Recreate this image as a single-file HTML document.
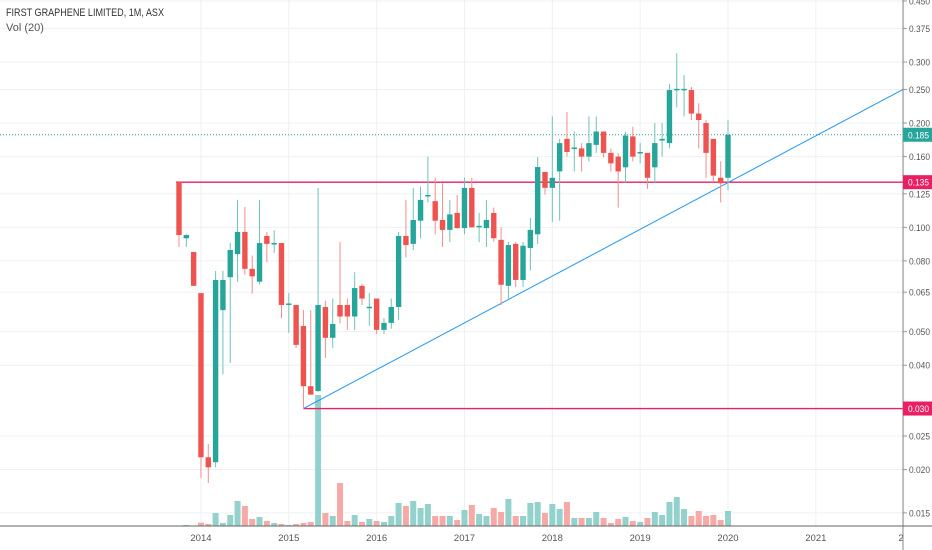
<!DOCTYPE html>
<html><head><meta charset="utf-8"><style>
html,body{margin:0;padding:0;background:#fff;}
svg{display:block;font-family:"Liberation Sans",sans-serif;}
</style></head><body>
<svg id="chart" width="932" height="550" viewBox="0 0 932 550" xmlns="http://www.w3.org/2000/svg">
<rect x="0" y="0" width="932" height="550" fill="#ffffff"/>
<g id="grid"></g>
<g id="vol"></g>
<g id="lines"></g>
<g id="candles"></g>
<g id="axes"></g>
<text x="6" y="16" font-size="11" fill="#333" textLength="158" lengthAdjust="spacingAndGlyphs">FIRST GRAPHENE LIMITED, 1M, ASX</text>
<text x="6" y="31" font-size="11" fill="#555">Vol (20)</text>
</svg>
<script>
const opens=[0.135,0.093,0.0849,0.0646,0.0217,0.021,0.0577,0.0718,0.0837,0.097,0.0759,0.0697,0.0944,0.0898,0.0901,0.0597,0.0597,0.0519,0.0348,0.0337,0.0589,0.048,0.0597,0.0597,0.0553,0.0678,0.0589,0.0623,0.0506,0.053,0.0589,0.0944,0.0896,0.1045,0.123,0.119,0.105,0.0983,0.11,0.0995,0.13,0.1,0.0995,0.11,0.092,0.0678,0.0896,0.0705,0.0872,0.0955,0.1445,0.13,0.145,0.18,0.169,0.169,0.16,0.173,0.189,0.164,0.16,0.149,0.183,0.164,0.164,0.149,0.178,0.175,0.249,0.25,0.249,0.213,0.2,0.18,0.139,0.139];
const highs=[0.135,0.0955,0.0849,0.0646,0.0237,0.0749,0.0749,0.0901,0.12,0.1145,0.0829,0.12,0.097,0.098,0.0901,0.0646,0.0597,0.0577,0.0577,0.130,0.0614,0.0623,0.0907,0.0623,0.0742,0.0687,0.0646,0.0623,0.0547,0.0623,0.097,0.12,0.13,0.131,0.16,0.139,0.134,0.12,0.124,0.139,0.139,0.11,0.12,0.114,0.1,0.0907,0.0907,0.0907,0.1065,0.1596,0.1445,0.209,0.18,0.215,0.189,0.175,0.209,0.209,0.189,0.169,0.164,0.189,0.195,0.175,0.164,0.2,0.2,0.259,0.318,0.275,0.254,0.228,0.204,0.18,0.155,0.204];
const lows=[0.0878,0.0878,0.0678,0.0189,0.0183,0.0203,0.0377,0.0406,0.0697,0.0729,0.0644,0.0685,0.0794,0.0844,0.0547,0.0496,0.0449,0.030,0.0329,0.0335,0.042,0.0449,0.0528,0.0506,0.0506,0.0597,0.052,0.0492,0.0492,0.051,0.054,0.0818,0.086,0.093,0.118,0.0955,0.0878,0.0907,0.099,0.0955,0.1,0.0907,0.0878,0.091,0.0597,0.0623,0.0673,0.0673,0.075,0.0896,0.1243,0.1035,0.1045,0.16,0.145,0.145,0.155,0.164,0.159,0.145,0.114,0.134,0.155,0.153,0.129,0.134,0.16,0.169,0.222,0.209,0.204,0.169,0.139,0.135,0.118,0.128];
const closes=[0.095,0.095,0.0678,0.0217,0.0203,0.0705,0.0705,0.086,0.097,0.0759,0.0722,0.0901,0.0896,0.0901,0.0597,0.0603,0.0458,0.0348,0.0329,0.0597,0.048,0.0526,0.0553,0.0553,0.0668,0.0623,0.059,0.0506,0.053,0.0589,0.0944,0.0889,0.105,0.12,0.124,0.1045,0.0983,0.109,0.0995,0.13,0.1,0.101,0.105,0.093,0.0683,0.0889,0.0705,0.0885,0.0983,0.1493,0.13,0.139,0.175,0.165,0.17,0.16,0.175,0.189,0.164,0.153,0.145,0.184,0.16,0.165,0.139,0.175,0.18,0.249,0.251,0.251,0.213,0.204,0.164,0.141,0.134,0.185];
const volumes=[0.5,1,0.5,3.3,2,13,3,11,25,20,7,9,5,3,2,1,2,3,4,131,13,10,43,5,11,4,7,5,4,10,23,20,25,18,22,10,10,10,6,16,21,12,10,18,14,27,10,10,23,24,13,22,17,24,8,8,8,14,8,3,7,9,5,4,8,14,11,24,29,17,10,15,10,11,6,15];
const priceTicks=[0.45,0.375,0.3,0.25,0.2,0.16,0.125,0.1,0.08,0.065,0.05,0.04,0.025,0.02,0.015];
const tickLabels=["0.450","0.375","0.300","0.250","0.200","0.160","0.125","0.100","0.080","0.065","0.050","0.040","0.025","0.020","0.015"];
const yearLabels=["2014","2015","2016","2017","2018","2019","2020","2021","20"];
const yearStartIndex=3;
const lastPrice=0.185, resistance=0.135, support=0.030, trendStartIndex=17;

const NS="http://www.w3.org/2000/svg";
const PLOT_R=903, VOL_BASE=526;
function y(p){return 62+150.5*Math.log(0.3/p);}
function x(i){return 179+i*7.32;}
function vy(v){return VOL_BASE-v*1.0;}
function mk(tag,attrs,parent){const e=document.createElementNS(NS,tag);for(const k in attrs)e.setAttribute(k,attrs[k]);parent.appendChild(e);return e;}
const grid=document.getElementById('grid'),vol=document.getElementById('vol'),lines=document.getElementById('lines'),cg=document.getElementById('candles'),axes=document.getElementById('axes');

priceTicks.forEach((p,k)=>{
  const g=mk('line',{x1:0,x2:PLOT_R,y1:y(p),y2:y(p),stroke:'#eef0f4','stroke-width':1},grid);
  
  
  mk('line',{x1:PLOT_R,x2:PLOT_R+4,y1:y(p),y2:y(p),stroke:'#999','stroke-width':1},axes);
  const t=mk('text',{x:PLOT_R+6,y:y(p)+3.5,'font-size':9.5,fill:'#555',textLength:21,lengthAdjust:'spacingAndGlyphs'},axes);
  t.textContent=tickLabels[k];
  
  
});
yearLabels.forEach((lab,k)=>{
  const xx=x(yearStartIndex+12*k);
  const g=mk('line',{x1:xx,x2:xx,y1:0,y2:VOL_BASE,stroke:'#eef0f4','stroke-width':1},grid);
  
  
  const t=mk('text',{x:xx,y:541,'font-size':9.5,fill:'#555','text-anchor':'middle'},axes);
  t.textContent=lab;
  
  
});
mk('rect',{x:PLOT_R+1,y:527,width:40,height:23,fill:'#fff'},axes);
mk('line',{x1:PLOT_R,x2:PLOT_R,y1:0,y2:550,stroke:'#888','stroke-width':1},axes);
mk('line',{x1:0,x2:932,y1:VOL_BASE,y2:VOL_BASE,stroke:'#666','stroke-width':1},axes);

volumes.forEach((v,i)=>{
  const up=closes[i]>=opens[i];
  const r=mk('rect',{x:x(i)-3,y:vy(v),width:6,height:VOL_BASE-vy(v),fill:up?'#93d2cc':'#f7a9a7'},vol);
  
  
});

const ll=mk('line',{x1:0,x2:PLOT_R,y1:y(lastPrice),y2:y(lastPrice),stroke:'#26a69a','stroke-width':1,'stroke-dasharray':'1,2'},lines);


const rl=mk('line',{x1:x(0)-3,x2:PLOT_R,y1:y(resistance),y2:y(resistance),stroke:'#e91e63','stroke-width':1.3},lines);


const sl=mk('line',{x1:x(trendStartIndex),x2:PLOT_R,y1:y(support),y2:y(support),stroke:'#e91e63','stroke-width':1.3},lines);


const tl=mk('line',{x1:x(trendStartIndex),y1:y(support),x2:PLOT_R,y2:y(0.25),stroke:'#2196f3','stroke-width':1},lines);



opens.forEach((o,i)=>{
  const c=closes[i],up=c>=o,col=up?'#26a69a':'#ef5350',wc=up?'#6cc3b9':'#f38d8b';
  const w=mk('line',{x1:x(i),x2:x(i),y1:y(highs[i]),y2:y(lows[i]),stroke:wc,'stroke-width':1},cg);
  
  
  const top=Math.min(y(o),y(c)),h=Math.max(1.5,Math.abs(y(o)-y(c)));
  const b=mk('rect',{x:x(i)-2.7,y:top,width:5.4,height:h,fill:col},cg);
  
  
});

function badge(p,color,txt,name){
  const r=mk('rect',{x:PLOT_R,y:y(p)-7,width:29,height:14,fill:color},axes);
  
  
  const t=mk('text',{x:PLOT_R+5,y:y(p)+3.5,'font-size':9.5,fill:'#fff',textLength:21,lengthAdjust:'spacingAndGlyphs'},axes);
  t.textContent=txt;
  
  
}
badge(lastPrice,'#26a69a','0.185','last-price-badge');
badge(resistance,'#e91e63','0.135','resistance-badge');
badge(support,'#e91e63','0.030','support-badge');
</script>
</body></html>
